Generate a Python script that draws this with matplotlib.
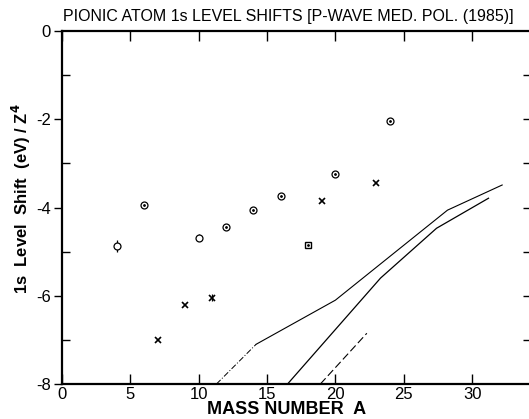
import numpy as np
import matplotlib
matplotlib.use("Agg")
import matplotlib.pyplot as plt
from matplotlib.ticker import MultipleLocator

plt.rcParams["font.family"] = ["Liberation Sans", "DejaVu Sans"]

# circles (dotted open circles)
circ_A = [6, 12, 14, 16, 20, 24]
circ_y = [-3.95, -4.45, -4.05, -3.75, -3.25, -2.05]
# circles with error bars
circ_err_A = [4, 10]
circ_err_y = [-4.87, -4.68]
circ_err_e = [0.13, 0.08]
# crosses
cross_A = [7, 9, 11, 19, 23]
cross_y = [-7.0, -6.2, -6.05, -3.85, -3.45]
cross_e = [0, 0, 0.08, 0, 0]
# square
sq_A = [18]
sq_y = [-4.85]

# theory curves
c1_A = [11.3, 14.2, 20.0, 28.2, 32.2]
c1_y = [-8.0, -7.1, -6.1, -4.06, -3.49]
c2_A = [16.5, 23.3, 27.4, 31.2]
c2_y = [-8.0, -5.6, -4.47, -3.79]
c3_A = [18.9, 22.3]
c3_y = [-8.0, -6.85]

fig = plt.figure(figsize=(5.29, 4.19), dpi=100)
ax = fig.add_axes([62 / 529, 1 - 384 / 419, (531 - 62) / 529, (384 - 31) / 419])

# 曲线
ax.plot(c1_A[:2], c1_y[:2], color="black", lw=0.7, dashes=(6, 2, 1, 2))
ax.plot(c1_A[1:], c1_y[1:], color="black", lw=0.8)
ax.plot(c2_A, c2_y, color="black", lw=0.9)
ax.plot(c3_A, c3_y, color="black", lw=0.8, dashes=(7, 3))

# 数据点
ax.plot(circ_A, circ_y, "o", ms=5, mfc="white", mec="black", mew=0.9)
ax.plot(circ_A, circ_y, ".", ms=2, color="black")
ax.errorbar(circ_err_A, circ_err_y, yerr=circ_err_e, fmt="o", ms=5,
            mfc="white", mec="black", mew=0.9, ecolor="black", elinewidth=0.9, capsize=0)
ax.plot(circ_err_A, circ_err_y, ".", ms=2, color="black")
ax.errorbar(cross_A, cross_y, yerr=cross_e, fmt="x", ms=4, mew=1.2,
            color="black", elinewidth=0.9, capsize=0)
ax.plot(sq_A, sq_y, "s", ms=5, mfc="white", mec="black", mew=1.0)
ax.plot(sq_A, sq_y, ".", ms=2, color="black")

ax.set_xlim(0, (531 - 62) / 13.67)
ax.set_ylim(-8, 0)

ax.set_xticks(np.arange(0, 31, 5))
ax.set_yticks([0, -2, -4, -6, -8])
ax.yaxis.set_minor_locator(MultipleLocator(1))
ax.tick_params(axis="x", direction="in", top=True, length=7, width=1.0,
               labelsize=12, pad=2)
ax.tick_params(axis="y", which="major", direction="out", length=6, width=1.0,
               labelsize=12, pad=2)
ax.tick_params(axis="y", which="minor", direction="in", length=6, width=1.0)
ax.set_yticklabels(["0", "-2", "-4", "-6", "-8"])

for s in ["left", "bottom", "top"]:
    ax.spines[s].set_linewidth(1.6)
ax.spines["right"].set_visible(False)

ax2 = ax.twinx()
ax2.set_ylim(-8, 0)
ax2.set_yticks(np.arange(-7, 0, 1))
ax2.tick_params(axis="y", direction="in", length=6, width=1.0, labelright=False)
ax2.spines["right"].set_visible(False)
for s in ["left", "bottom", "top"]:
    ax2.spines[s].set_visible(False)

ax.set_xlabel("MASS NUMBER  A", fontsize=13, fontweight="bold")
ax.xaxis.set_label_coords((287 - 62) / 469, -(401 - 384) / 353)
ax.set_ylabel("1s  Level  Shift  (eV) / Z$^\\mathbf{4}$", fontsize=12, fontweight="bold")
ax.yaxis.set_label_coords(-(62 - 33) / 469, (384 - 199) / 353)
fig.text(0.545, 0.96, "PIONIC ATOM 1s LEVEL SHIFTS [P-WAVE MED. POL. (1985)]",
         ha="center", va="center", fontsize=11.5)

fig.savefig("out.png", dpi=100)
